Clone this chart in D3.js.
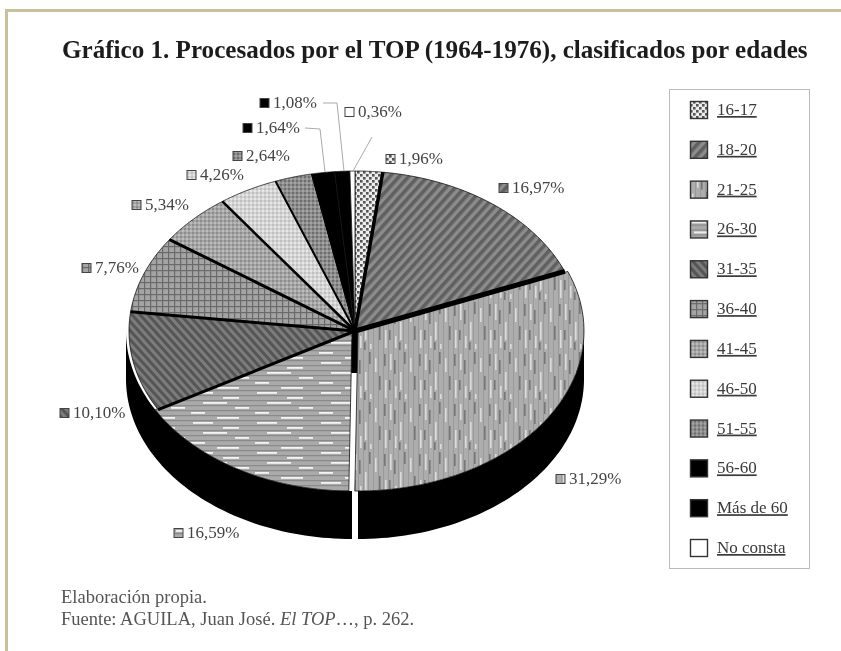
<!DOCTYPE html>
<html>
<head>
<meta charset="utf-8">
<script src="https://cdn.jsdelivr.net/npm/d3@7"></script>
<style>
  html, body { margin: 0; padding: 0; background: #fff; }
  svg { display: block; filter: blur(0.6px); }
  text { font-family: "Liberation Serif", serif; }
</style>
</head>
<body>
<div id="chart"></div>
<script>
  const categories = ['16-17', '18-20', '21-25', '26-30', '31-35', '36-40', '41-45', '46-50', '51-55', '56-60', 'Más de 60', 'No consta'];
  const shares = [1.96, 16.97, 31.29, 16.59, 10.10, 7.76, 5.34, 4.26, 2.64, 1.64, 1.08, 0.36];

  const width = 841, height = 651;
  const cx = 355, cy = 331, rx = 226, ry = 160, depth = 48;

  // hand placed, same order as categories: left edge of swatch, text baseline
  const labelPos = [
    [386, 164], [499, 193], [556, 484], [174, 538], [60, 418], [82, 273],
    [132, 210], [187, 180], [233, 161], [243, 133], [260, 108], [345, 117]
  ];
  // sideways shift of each slice, the chart is slightly exploded at the bottom
  const shift = [0, 0, 3, -3, 0, 0, 0, 0, 0, 0, 0, 0];
  // black gap after each slice
  const gapWidth = [3.5, 5, 0, 3, 3, 3, 2.5, 2, 1, 0, 0, 0];

  const svg = d3.select('#chart').append('svg')
    .attr('width', width)
    .attr('height', height);

  /**
   * Patterns
   */
  const defs = svg.append('defs');

  function addPattern(id, w, h, bg, draw, rotate) {
    const p = defs.append('pattern')
      .attr('id', id)
      .attr('patternUnits', 'userSpaceOnUse')
      .attr('width', w)
      .attr('height', h);
    if (rotate) p.attr('patternTransform', 'rotate(' + rotate + ')');
    p.append('rect').attr('width', w).attr('height', h).attr('fill', bg);
    draw(p);
  }
  function box(p, x, y, w, h, c) {
    p.append('rect').attr('x', x).attr('y', y).attr('width', w).attr('height', h).attr('fill', c);
  }

  addPattern('p0', 6, 6, '#ededed', p => {
    box(p, 0, 0, 2.6, 2.6, '#555');
    box(p, 3, 3, 2.6, 2.6, '#555');
  });
  addPattern('p1', 7, 7, '#8c8c8c', p => box(p, 0, 0, 3.6, 7, '#606060'), 42);
  addPattern('p2', 35, 50, '#adadad', p => {
    [0, 5, 10, 15, 20, 25, 30].forEach(x => box(p, x, 0, 1, 50, '#9a9a9a'));
    [[2, 4, 16], [12, 22, 18], [22, 8, 14], [32, 30, 18], [7, 36, 12], [17, 44, 5]]
      .forEach(d => box(p, d[0], d[1], 1.6, d[2], '#dcdcdc'));
    [[6, 10, 14], [16, 2, 12], [26, 26, 14], [1, 30, 10], [31, 4, 12], [11, 42, 8]]
      .forEach(d => box(p, d[0], d[1], 1.6, d[2], '#777'));
  });
  addPattern('p3', 64, 30, '#aaaaaa', p => {
    [0, 5, 10, 15, 20, 25].forEach(y => box(p, 0, y, 64, 1.2, '#8a8a8a'));
    [[4, 2, 20], [34, 7, 16], [14, 12, 24], [46, 17, 14], [2, 22, 14], [28, 27, 22]]
      .forEach(d => box(p, d[0], d[1], d[2], 1.8, '#f4f4f4'));
  });
  addPattern('p4', 6, 6, '#7c7c7c', p => box(p, 0, 0, 3, 6, '#555'), -42);
  addPattern('p5', 6, 6, '#a4a4a4', p => {
    box(p, 0, 0, 6, 1.2, '#6a6a6a');
    box(p, 0, 0, 1.2, 6, '#6a6a6a');
  });
  addPattern('p6', 4, 4, '#a6a6a6', p => {
    box(p, 0, 0, 2, 2, '#8c8c8c');
    box(p, 2, 2, 2, 2, '#bcbcbc');
  });
  addPattern('p7', 4, 4, '#d4d4d4', p => {
    box(p, 0, 0, 2, 2, '#c0c0c0');
    box(p, 2, 2, 2, 2, '#e6e6e6');
  });
  addPattern('p8', 4, 4, '#8e8e8e', p => {
    box(p, 0, 0, 2, 2, '#6e6e6e');
    box(p, 2, 2, 2, 2, '#a4a4a4');
  });
  const fillOf = i => i === 9 || i === 10 ? '#000' : i === 11 ? '#fff' : 'url(#p' + i + ')';

  /**
   * Pie
   */
  const pie = d3.pie().sort(null).value(d => d)(shares);
  const point = a => [cx + rx * Math.sin(a), cy - ry * Math.cos(a)];
  const line = d3.line();
  const steps = (a0, a1) => d3.range(0, 61).map(i => a0 + (a1 - a0) * i / 60);

  function slicePath(d) {
    const pts = steps(d.startAngle, d.endAngle).map(point);
    return line([[cx, cy]].concat(pts)) + 'Z';
  }

  // side of the cake, split in two at the bottom
  const wall = d3.area()
    .x(a => point(a)[0])
    .y0(a => point(a)[1])
    .y1(a => point(a)[1] + depth);
  const frontRight = steps(Math.PI / 2, Math.PI);
  const frontLeft = steps(Math.PI, Math.PI * 1.5);

  const cake = svg.append('g');
  cake.append('path').attr('d', wall(frontRight)).attr('fill', '#000').attr('transform', 'translate(3,0)');
  cake.append('path').attr('d', wall(frontLeft)).attr('fill', '#000').attr('transform', 'translate(-3,0)');
  cake.append('rect').attr('x', cx - 5).attr('y', cy).attr('width', 10).attr('height', 42).attr('fill', '#000');

  cake.selectAll('path.slice')
    .data(pie)
    .enter().append('path')
    .attr('class', 'slice')
    .attr('d', slicePath)
    .attr('transform', (d, i) => 'translate(' + shift[i] + ',0)')
    .attr('fill', (d, i) => fillOf(i))
    .attr('stroke', '#111')
    .attr('stroke-width', 0.8);

  cake.selectAll('line.gap')
    .data(pie.filter((d, i) => gapWidth[i] > 0))
    .enter().append('line')
    .attr('class', 'gap')
    .attr('x1', cx)
    .attr('y1', cy)
    .attr('x2', d => point(d.endAngle)[0])
    .attr('y2', d => point(d.endAngle)[1])
    .attr('stroke', '#000')
    .attr('stroke-width', d => gapWidth[d.index]);

  /**
   * Value labels
   */
  const fmt = v => v.toFixed(2).replace('.', ',') + '%';
  const labels = svg.append('g').selectAll('g')
    .data(shares)
    .enter().append('g')
    .attr('transform', (d, i) => 'translate(' + labelPos[i][0] + ',' + labelPos[i][1] + ')');
  labels.append('rect')
    .attr('x', 0).attr('y', -9.5)
    .attr('width', 9).attr('height', 9)
    .attr('fill', (d, i) => fillOf(i))
    .attr('stroke', '#444')
    .attr('stroke-width', 1);
  labels.append('text')
    .attr('x', 13)
    .attr('font-size', 17)
    .attr('fill', '#444')
    .text(fmt);

  // leaders for the three thin slices
  const leaders = [
    [[305, 128], [320, 129], [325, 172]],
    [[323, 103], [337, 103], [344, 171]],
    [[372, 137], [353, 171]]
  ];
  svg.append('g').selectAll('path')
    .data(leaders)
    .enter().append('path')
    .attr('d', d => line(d))
    .attr('fill', 'none')
    .attr('stroke', '#aaa')
    .attr('stroke-width', 1);

  /**
   * Legend
   */
  svg.append('rect')
    .attr('x', 669.5).attr('y', 89.5)
    .attr('width', 140).attr('height', 479)
    .attr('fill', 'none')
    .attr('stroke', '#bbb')
    .attr('stroke-width', 1);

  const legendY = d3.scalePoint().domain(categories).range([110, 548]);
  const legend = svg.append('g').selectAll('g')
    .data(categories)
    .enter().append('g')
    .attr('transform', d => 'translate(690,' + legendY(d) + ')');
  legend.append('rect')
    .attr('x', 0.5).attr('y', -8.5)
    .attr('width', 17).attr('height', 17)
    .attr('fill', (d, i) => fillOf(i))
    .attr('stroke', '#333')
    .attr('stroke-width', 1.4);
  legend.append('text')
    .attr('x', 27)
    .attr('y', 5)
    .attr('font-size', 17)
    .attr('fill', '#3a3a3a')
    .attr('text-decoration', 'underline')
    .text(d => d);

  /**
   * Title, source, border
   */
  svg.append('text')
    .attr('x', 62).attr('y', 58)
    .attr('font-size', 25.1)
    .attr('font-weight', 'bold')
    .attr('fill', '#1c1c1c')
    .text('Gráfico 1. Procesados por el TOP (1964-1976), clasificados por edades');
  svg.append('text')
    .attr('x', 61).attr('y', 603)
    .attr('font-size', 18.5)
    .attr('fill', '#555')
    .text('Elaboración propia.');
  const source = svg.append('text')
    .attr('x', 61).attr('y', 625)
    .attr('font-size', 18.5)
    .attr('fill', '#555');
  source.append('tspan').text('Fuente: AGUILA, Juan José. ');
  source.append('tspan').attr('font-style', 'italic').text('El TOP');
  source.append('tspan').text('…, p. 262.');

  svg.append('path')
    .attr('d', line([[6.5, height], [6.5, 10.5], [width, 10.5]]))
    .attr('fill', 'none')
    .attr('stroke', '#c9c19c')
    .attr('stroke-width', 3);
</script>
</body>
</html>
